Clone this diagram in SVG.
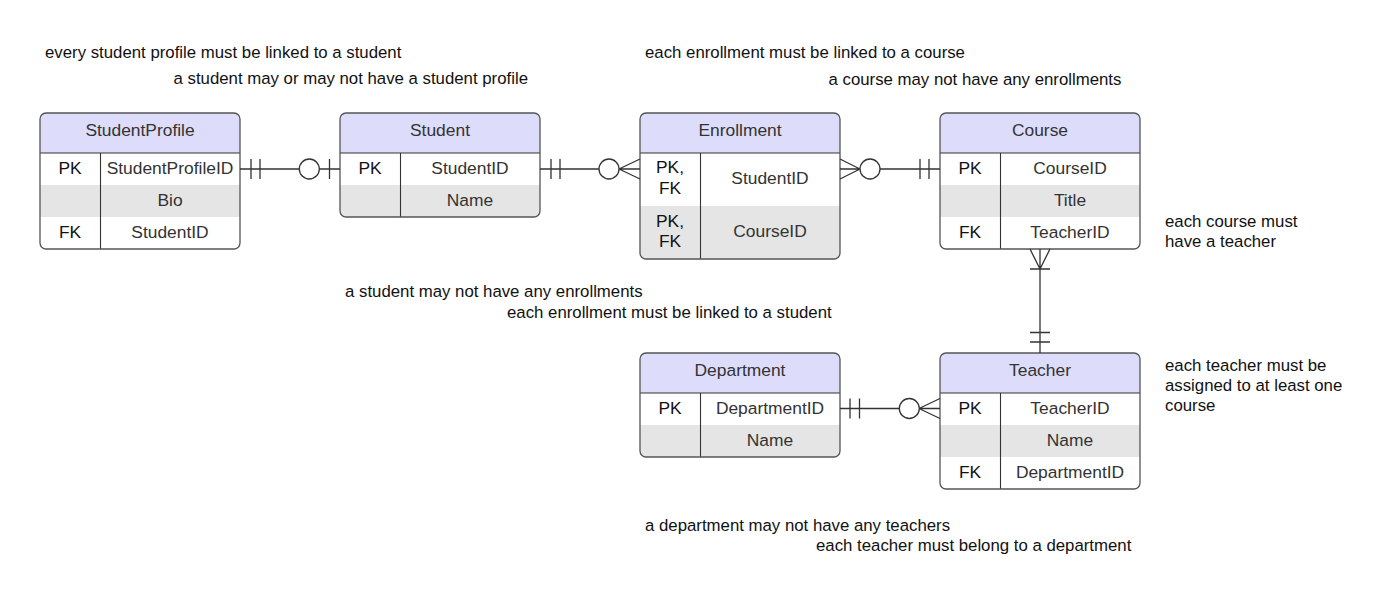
<svg xmlns="http://www.w3.org/2000/svg" width="1400" height="596" viewBox="0 0 1400 596">
<style>
.box{fill:#ffffff;stroke:none}
.hdr{fill:#ddddfb}
.alt{fill:#e5e5e5}
.out{fill:none;stroke:#555;stroke-width:1.3}
.div{stroke:#333;stroke-width:1.1}
.t{font-family:"Liberation Sans",Arial,sans-serif;font-size:17.4px;fill:#333;text-anchor:middle}
.k{font-family:"Liberation Sans",Arial,sans-serif;font-size:17.4px;fill:#111;text-anchor:middle}
.a{font-family:"Liberation Sans",Arial,sans-serif;font-size:16.8px;fill:#111}
.c{fill:none;stroke:#333;stroke-width:1.3}
.o{fill:#fff;stroke:#333;stroke-width:1.3}
</style>
<rect width="1400" height="596" fill="#fff"/>

<g id="StudentProfile">
<clipPath id="cp1"><rect x="40" y="113" width="200" height="136" rx="6"/></clipPath>
<g clip-path="url(#cp1)">
<rect x="40" y="113" width="200" height="136" class="box"/>
<rect x="40" y="113" width="200" height="40" class="hdr"/>
<rect x="40" y="185" width="200" height="32" class="alt"/>
</g>
<line x1="40" y1="153" x2="240" y2="153" class="div"/>
<line x1="100.5" y1="153" x2="100.5" y2="249" class="div"/>
<rect x="40" y="113" width="200" height="136" rx="6" class="out"/>
<text x="140" y="136" class="t">StudentProfile</text>
<text x="70" y="174" class="k">PK</text><text x="170" y="174" class="t">StudentProfileID</text>
<text x="170" y="206" class="t">Bio</text>
<text x="70" y="238" class="k">FK</text><text x="170" y="238" class="t">StudentID</text>
</g>

<g id="Student">
<clipPath id="cp2"><rect x="340" y="113" width="200" height="104" rx="6"/></clipPath>
<g clip-path="url(#cp2)">
<rect x="340" y="113" width="200" height="104" class="box"/>
<rect x="340" y="113" width="200" height="40" class="hdr"/>
<rect x="340" y="185" width="200" height="32" class="alt"/>
</g>
<line x1="340" y1="153" x2="540" y2="153" class="div"/>
<line x1="400.5" y1="153" x2="400.5" y2="217" class="div"/>
<rect x="340" y="113" width="200" height="104" rx="6" class="out"/>
<text x="440" y="136" class="t">Student</text>
<text x="370" y="174" class="k">PK</text><text x="470" y="174" class="t">StudentID</text>
<text x="470" y="206" class="t">Name</text>
</g>

<g id="Enrollment">
<clipPath id="cp3"><rect x="640" y="113" width="200" height="146" rx="6"/></clipPath>
<g clip-path="url(#cp3)">
<rect x="640" y="113" width="200" height="146" class="box"/>
<rect x="640" y="113" width="200" height="40" class="hdr"/>
<rect x="640" y="206" width="200" height="53" class="alt"/>
</g>
<line x1="640" y1="153" x2="840" y2="153" class="div"/>
<line x1="700.5" y1="153" x2="700.5" y2="259" class="div"/>
<rect x="640" y="113" width="200" height="146" rx="6" class="out"/>
<text x="740" y="136" class="t">Enrollment</text>
<text x="670" y="173" class="k">PK,</text><text x="670" y="194" class="k">FK</text>
<text x="770" y="184" class="t">StudentID</text>
<text x="670" y="227" class="k">PK,</text><text x="670" y="247" class="k">FK</text>
<text x="770" y="237" class="t">CourseID</text>
</g>

<g id="Course">
<clipPath id="cp4"><rect x="940" y="113" width="200" height="136" rx="6"/></clipPath>
<g clip-path="url(#cp4)">
<rect x="940" y="113" width="200" height="136" class="box"/>
<rect x="940" y="113" width="200" height="40" class="hdr"/>
<rect x="940" y="185" width="200" height="32" class="alt"/>
</g>
<line x1="940" y1="153" x2="1140" y2="153" class="div"/>
<line x1="1000.5" y1="153" x2="1000.5" y2="249" class="div"/>
<rect x="940" y="113" width="200" height="136" rx="6" class="out"/>
<text x="1040" y="136" class="t">Course</text>
<text x="970" y="174" class="k">PK</text><text x="1070" y="174" class="t">CourseID</text>
<text x="1070" y="206" class="t">Title</text>
<text x="970" y="238" class="k">FK</text><text x="1070" y="238" class="t">TeacherID</text>
</g>

<g id="Department">
<clipPath id="cp5"><rect x="640" y="353" width="200" height="104" rx="6"/></clipPath>
<g clip-path="url(#cp5)">
<rect x="640" y="353" width="200" height="104" class="box"/>
<rect x="640" y="353" width="200" height="40" class="hdr"/>
<rect x="640" y="425" width="200" height="32" class="alt"/>
</g>
<line x1="640" y1="393" x2="840" y2="393" class="div"/>
<line x1="700.5" y1="393" x2="700.5" y2="457" class="div"/>
<rect x="640" y="353" width="200" height="104" rx="6" class="out"/>
<text x="740" y="376" class="t">Department</text>
<text x="670" y="414" class="k">PK</text><text x="770" y="414" class="t">DepartmentID</text>
<text x="770" y="446" class="t">Name</text>
</g>

<g id="Teacher">
<clipPath id="cp6"><rect x="940" y="353" width="200" height="136" rx="6"/></clipPath>
<g clip-path="url(#cp6)">
<rect x="940" y="353" width="200" height="136" class="box"/>
<rect x="940" y="353" width="200" height="40" class="hdr"/>
<rect x="940" y="425" width="200" height="32" class="alt"/>
</g>
<line x1="940" y1="393" x2="1140" y2="393" class="div"/>
<line x1="1000.5" y1="393" x2="1000.5" y2="489" class="div"/>
<rect x="940" y="353" width="200" height="136" rx="6" class="out"/>
<text x="1040" y="376" class="t">Teacher</text>
<text x="970" y="414" class="k">PK</text><text x="1070" y="414" class="t">TeacherID</text>
<text x="1070" y="446" class="t">Name</text>
<text x="970" y="478" class="k">FK</text><text x="1070" y="478" class="t">DepartmentID</text>
</g>

<g id="connectors">
<!-- StudentProfile - Student -->
<path class="c" d="M240 169 H299 M251 159 V179 M260 159 V179 M319 169 H340 M329.5 159 V179"/>
<circle class="o" cx="309.3" cy="169" r="10"/>
<!-- Student - Enrollment -->
<path class="c" d="M540 169 H599 M551 159 V179 M560 159 V179 M619 169 H640 M619 169 L640 159 M619 169 L640 179"/>
<circle class="o" cx="609" cy="169" r="10"/>
<!-- Enrollment - Course -->
<path class="c" d="M840 169 H860 M860 169 L840 159 M860 169 L840 179 M880 169 H940 M920 159 V179 M929 159 V179"/>
<circle class="o" cx="870" cy="169" r="10"/>
<!-- Course - Teacher -->
<path class="c" d="M1040 249 V353 M1040 269 L1030 249 M1040 269 L1050 249 M1030 269 H1050 M1030 332.5 H1050 M1030 342 H1050"/>
<!-- Department - Teacher -->
<path class="c" d="M840 408.5 H899 M850 398.5 V418.5 M859.5 398.5 V418.5 M919 408.5 H940 M919 408.5 L940 398.5 M919 408.5 L940 418.5"/>
<circle class="o" cx="909.3" cy="408.5" r="10"/>
</g>

<g id="labels">
<text x="45" y="58" class="a">every student profile must be linked to a student</text>
<text x="173.5" y="84" class="a">a student may or may not have a student profile</text>
<text x="645" y="58" class="a">each enrollment must be linked to a course</text>
<text x="828.5" y="84.5" class="a">a course may not have any enrollments</text>
<text x="1165" y="227" class="a">each course must</text>
<text x="1165" y="247" class="a">have a teacher</text>
<text x="1165" y="371" class="a">each teacher must be</text>
<text x="1165" y="391" class="a">assigned to at least one</text>
<text x="1165" y="411" class="a">course</text>
<text x="345" y="297" class="a">a student may not have any enrollments</text>
<text x="507" y="318" class="a">each enrollment must be linked to a student</text>
<text x="645" y="530.5" class="a">a department may not have any teachers</text>
<text x="816" y="551" class="a">each teacher must belong to a department</text>
</g>
</svg>
